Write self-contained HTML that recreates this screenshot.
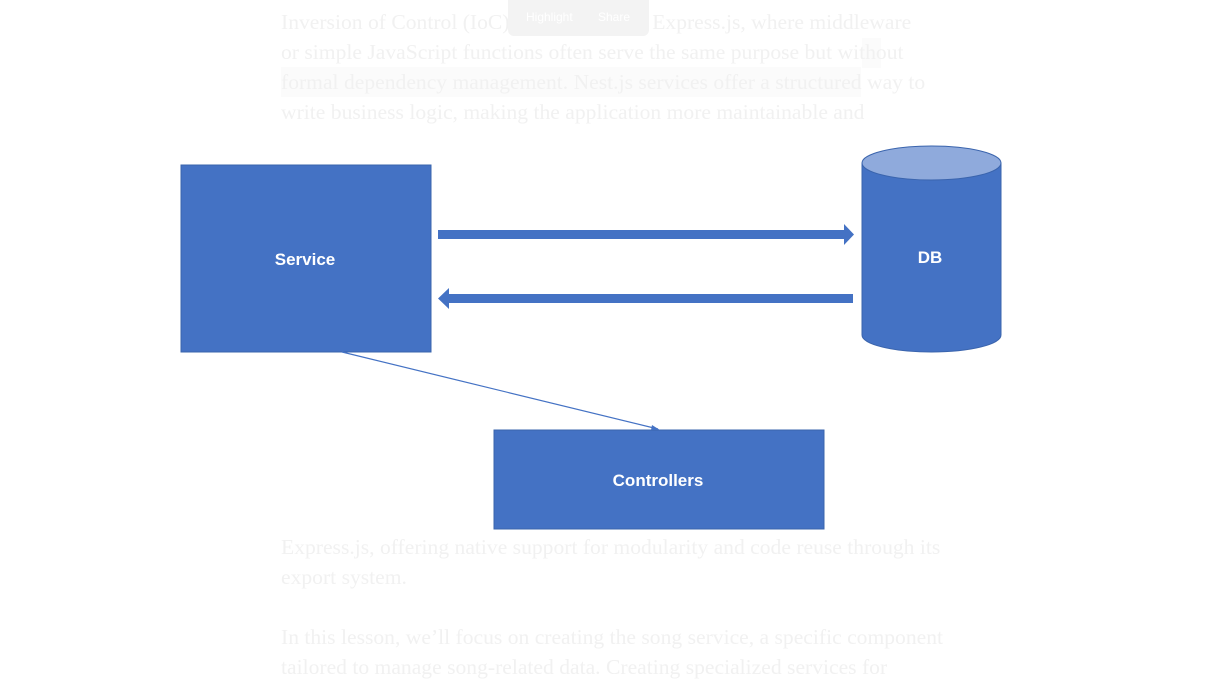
<!DOCTYPE html>
<html><head><style>
html,body{margin:0;padding:0;background:#fff;}
body{width:1227px;height:682px;position:relative;overflow:hidden;font-family:"Liberation Serif",serif;}
.t{position:absolute;left:281px;font-size:21.6px;color:#f1f1f1;white-space:nowrap;line-height:30px;}
</style></head><body>
<div style="position:absolute;left:281px;top:67px;width:580px;height:30px;background:#fbfbfb"></div>
<div style="position:absolute;left:862px;top:38px;width:19px;height:30px;background:#fbfbfb"></div>
<div class="t" style="top:7px">Inversion of Control (IoC) concept than in Express.js, where middleware</div>
<div class="t" style="top:37px">or simple JavaScript functions often serve the same purpose but without</div>
<div class="t" style="top:67px">formal dependency management. Nest.js services offer a structured way to</div>
<div class="t" style="top:97px">write business logic, making the application more maintainable and</div>
<div style="position:absolute;left:508px;top:0;width:141px;height:36px;background:#f3f3f3;border-radius:0 0 6px 6px;font-family:'Liberation Sans',sans-serif;font-size:12px;color:#fff;">
<span style="position:absolute;left:18px;top:10px">Highlight</span><span style="position:absolute;left:90px;top:10px">Share</span></div>
<div class="t" style="top:532px">Express.js, offering native support for modularity and code reuse through its</div>
<div class="t" style="top:562px">export system.</div>
<div class="t" style="top:622px">In this lesson, we’ll focus on creating the song service, a specific component</div>
<div class="t" style="top:652px">tailored to manage song-related data. Creating specialized services for</div>
<svg width="1227" height="682" style="position:absolute;left:0;top:0">
<rect x="181" y="165" width="250" height="187" fill="#4472c4" stroke="#3a64ad" stroke-width="1"/>
<text x="305" y="265" fill="#fff" font-family="Liberation Sans,sans-serif" font-weight="bold" font-size="17" text-anchor="middle">Service</text>
<rect x="494" y="430" width="330" height="99" fill="#4472c4" stroke="#3a64ad" stroke-width="1"/>
<text x="658" y="486" fill="#fff" font-family="Liberation Sans,sans-serif" font-weight="bold" font-size="17" text-anchor="middle">Controllers</text>
<path d="M862,163 L862,335 A69.5,17 0 0 0 1001,335 L1001,163 Z" fill="#4472c4" stroke="#3a64ad"/>
<ellipse cx="931.5" cy="163" rx="69.5" ry="17" fill="#8faadc" stroke="#3a64ad"/>
<text x="930" y="263" fill="#fff" font-family="Liberation Sans,sans-serif" font-weight="bold" font-size="17" text-anchor="middle">DB</text>
<path d="M438,230 L844,230 L844,224 L854,234.5 L844,245 L844,239 L438,239 Z" fill="#4472c4"/>
<path d="M853,294 L449,294 L449,288 L438,298.5 L449,309 L449,303 L853,303 Z" fill="#4472c4"/>
<line x1="342" y1="352" x2="658" y2="429" stroke="#4472c4" stroke-width="1.2"/>
<path d="M652,425 L660,430 L651,430 Z" fill="#4472c4"/>
</svg>
</body></html>
